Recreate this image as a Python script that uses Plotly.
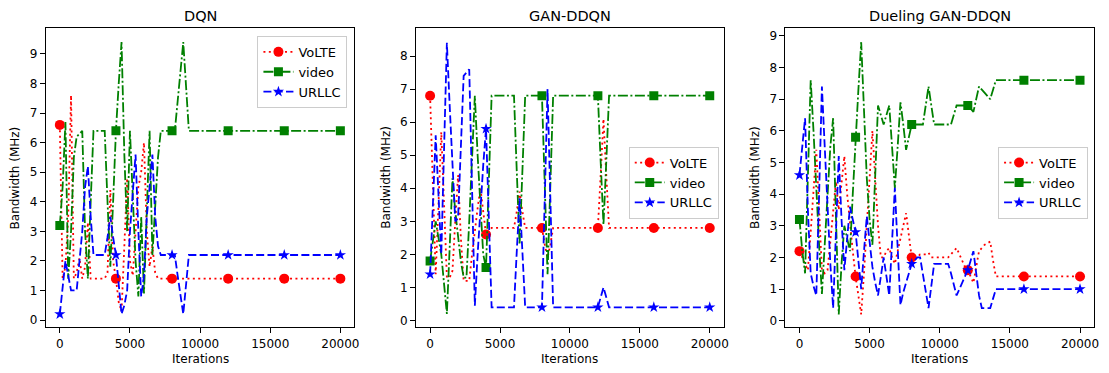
import plotly.graph_objects as go

ITERATIONS = list(range(0, 20001, 200))
TICK_X = [0, 5000, 10000, 15000, 20000]
TICK_X_TEXT = ["0", "5000", "10000", "15000", "20000"]
PANEL_TITLES = ["DQN", "GAN-DDQN", "Dueling GAN-DDQN"]
SERIES_NAMES = ["VoLTE", "video", "URLLC"]

DQN_VOLTE = [
    6.6, 1.4, 1.8, 3.5, 7.6, 1.4, 1.6, 2.1, 1.4, 1.8,
    3.3, 1.4, 1.4, 1.4, 1.4, 1.4, 1.4, 1.6, 4.4, 2.0,
    1.4, 0.6, 0.3, 2.5, 4.8, 2.0, 1.5, 3.0, 4.5, 5.0,
    6.0, 3.0, 1.8, 2.5, 1.6, 1.4, 1.4, 1.4, 1.4, 1.4,
    1.4, 1.4, 1.4, 1.4, 1.4, 1.4, 1.4, 1.4, 1.4, 1.4,
    1.4, 1.4, 1.4, 1.4, 1.4, 1.4, 1.4, 1.4, 1.4, 1.4,
    1.4, 1.4, 1.4, 1.4, 1.4, 1.4, 1.4, 1.4, 1.4, 1.4,
    1.4, 1.4, 1.4, 1.4, 1.4, 1.4, 1.4, 1.4, 1.4, 1.4,
    1.4, 1.4, 1.4, 1.4, 1.4, 1.4, 1.4, 1.4, 1.4, 1.4,
    1.4, 1.4, 1.4, 1.4, 1.4, 1.4, 1.4, 1.4, 1.4, 1.4,
    1.4]
DQN_VIDEO = [
    3.2, 4.5, 6.7, 1.4, 3.0, 5.5, 6.2, 6.3, 6.4, 3.0,
    1.4, 4.0, 6.4, 6.4, 6.4, 6.4, 6.4, 4.0, 1.8, 4.0,
    6.4, 8.0, 9.4, 5.6, 3.0, 6.4, 4.0, 2.0, 0.8, 3.5,
    0.9, 4.0, 6.4, 2.2, 4.0, 5.5, 6.4, 6.4, 6.4, 6.4,
    6.4, 6.4, 7.4, 8.4, 9.4, 7.9, 6.4, 6.4, 6.4, 6.4,
    6.4, 6.4, 6.4, 6.4, 6.4, 6.4, 6.4, 6.4, 6.4, 6.4,
    6.4, 6.4, 6.4, 6.4, 6.4, 6.4, 6.4, 6.4, 6.4, 6.4,
    6.4, 6.4, 6.4, 6.4, 6.4, 6.4, 6.4, 6.4, 6.4, 6.4,
    6.4, 6.4, 6.4, 6.4, 6.4, 6.4, 6.4, 6.4, 6.4, 6.4,
    6.4, 6.4, 6.4, 6.4, 6.4, 6.4, 6.4, 6.4, 6.4, 6.4,
    6.4]
DQN_URLLC = [
    0.2, 1.2, 2.0, 1.5, 1.0, 1.0, 1.0, 2.0, 3.0, 4.5,
    5.2, 3.5, 2.2, 2.2, 2.2, 2.2, 2.2, 2.8, 3.5, 2.8,
    2.2, 1.2, 0.2, 0.5, 1.0, 3.0, 4.5, 5.6, 3.0, 0.8,
    1.5, 3.5, 4.5, 5.6, 3.5, 2.5, 2.2, 2.2, 2.2, 2.2,
    2.2, 2.2, 1.5, 0.9, 0.2, 1.2, 2.2, 2.2, 2.2, 2.2,
    2.2, 2.2, 2.2, 2.2, 2.2, 2.2, 2.2, 2.2, 2.2, 2.2,
    2.2, 2.2, 2.2, 2.2, 2.2, 2.2, 2.2, 2.2, 2.2, 2.2,
    2.2, 2.2, 2.2, 2.2, 2.2, 2.2, 2.2, 2.2, 2.2, 2.2,
    2.2, 2.2, 2.2, 2.2, 2.2, 2.2, 2.2, 2.2, 2.2, 2.2,
    2.2, 2.2, 2.2, 2.2, 2.2, 2.2, 2.2, 2.2, 2.2, 2.2,
    2.2]

GAN_VOLTE = [
    6.8, 4.0, 1.4, 3.5, 5.7, 3.5, 1.3, 1.3, 1.5, 3.0,
    4.4, 2.5, 1.2, 1.2, 1.2, 2.0, 2.8, 3.4, 4.0, 3.3,
    2.6, 2.7, 2.8, 2.8, 2.8, 2.8, 2.8, 2.8, 2.8, 2.8,
    2.8, 3.3, 3.9, 3.3, 2.8, 2.8, 2.8, 2.8, 2.8, 2.8,
    2.8, 2.3, 1.9, 2.3, 2.8, 2.8, 2.8, 2.8, 2.8, 2.8,
    2.8, 2.8, 2.8, 2.8, 2.8, 2.8, 2.8, 2.8, 2.8, 2.8,
    2.8, 4.4, 6.1, 4.4, 2.8, 2.8, 2.8, 2.8, 2.8, 2.8,
    2.8, 2.8, 2.8, 2.8, 2.8, 2.8, 2.8, 2.8, 2.8, 2.8,
    2.8, 2.8, 2.8, 2.8, 2.8, 2.8, 2.8, 2.8, 2.8, 2.8,
    2.8, 2.8, 2.8, 2.8, 2.8, 2.8, 2.8, 2.8, 2.8, 2.8,
    2.8]
GAN_VIDEO = [
    1.8, 2.4, 3.0, 2.5, 2.0, 1.1, 0.2, 2.2, 4.3, 3.3,
    2.5, 1.8, 1.3, 1.3, 3.0, 5.0, 6.8, 5.0, 3.3, 2.0,
    1.6, 4.2, 6.8, 6.8, 6.8, 6.8, 6.8, 6.8, 6.8, 6.8,
    6.8, 4.5, 2.3, 4.5, 6.8, 6.8, 6.8, 6.8, 6.8, 6.8,
    6.8, 4.1, 1.4, 4.1, 6.8, 6.8, 6.8, 6.8, 6.8, 6.8,
    6.8, 6.8, 6.8, 6.8, 6.8, 6.8, 6.8, 6.8, 6.8, 6.8,
    6.8, 4.8, 2.9, 4.8, 6.8, 6.8, 6.8, 6.8, 6.8, 6.8,
    6.8, 6.8, 6.8, 6.8, 6.8, 6.8, 6.8, 6.8, 6.8, 6.8,
    6.8, 6.8, 6.8, 6.8, 6.8, 6.8, 6.8, 6.8, 6.8, 6.8,
    6.8, 6.8, 6.8, 6.8, 6.8, 6.8, 6.8, 6.8, 6.8, 6.8,
    6.8]
GAN_URLLC = [
    1.4, 3.5, 5.6, 3.8, 2.0, 5.2, 8.4, 6.5, 4.8, 3.0,
    3.1, 5.3, 7.4, 7.5, 7.6, 4.0, 0.45, 2.0, 3.5, 4.7,
    5.8, 3.1, 0.4, 0.4, 0.4, 0.4, 0.4, 0.4, 0.4, 0.4,
    0.4, 2.1, 3.7, 2.1, 0.4, 0.4, 0.4, 0.4, 0.4, 0.4,
    0.4, 3.7, 7.0, 3.7, 0.4, 0.4, 0.4, 0.4, 0.4, 0.4,
    0.4, 0.4, 0.4, 0.4, 0.4, 0.4, 0.4, 0.4, 0.4, 0.4,
    0.4, 0.7, 1.0, 0.7, 0.4, 0.4, 0.4, 0.4, 0.4, 0.4,
    0.4, 0.4, 0.4, 0.4, 0.4, 0.4, 0.4, 0.4, 0.4, 0.4,
    0.4, 0.4, 0.4, 0.4, 0.4, 0.4, 0.4, 0.4, 0.4, 0.4,
    0.4, 0.4, 0.4, 0.4, 0.4, 0.4, 0.4, 0.4, 0.4, 0.4,
    0.4]

DUEL_VOLTE = [
    2.2, 2.0, 1.8, 1.6, 2.8, 4.2, 5.4, 3.5, 1.6, 1.5,
    1.6, 2.5, 3.5, 4.4, 3.5, 4.4, 5.2, 4.0, 3.0, 2.2,
    1.4, 0.8, 0.2, 1.5, 3.0, 4.5, 6.0, 4.5, 3.0, 2.0,
    2.0, 2.2, 2.3, 2.0, 1.8, 2.2, 2.6, 3.0, 3.4, 2.7,
    2.0, 2.0, 2.0, 2.1, 2.1, 2.1, 2.15, 2.0, 2.0, 2.0,
    2.0, 2.0, 2.0, 2.0, 2.1, 2.2, 2.3, 2.1, 1.9, 1.7,
    1.6, 1.4, 1.2, 1.7, 2.2, 2.3, 2.4, 2.45, 2.5, 1.9,
    1.4, 1.4, 1.4, 1.4, 1.4, 1.4, 1.4, 1.4, 1.4, 1.4,
    1.4, 1.4, 1.4, 1.4, 1.4, 1.4, 1.4, 1.4, 1.4, 1.4,
    1.4, 1.4, 1.4, 1.4, 1.4, 1.4, 1.4, 1.4, 1.4, 1.4,
    1.4]
DUEL_VIDEO = [
    3.2, 2.2, 1.5, 4.5, 7.6, 6.0, 4.0, 2.4, 0.85, 2.5,
    4.0, 5.5, 6.4, 3.0, 0.2, 1.8, 3.0, 2.6, 2.2, 4.0,
    5.8, 7.3, 8.8, 6.5, 4.5, 3.2, 2.4, 4.6, 6.8, 6.5,
    6.2, 6.5, 6.8, 5.5, 4.2, 5.5, 6.9, 6.2, 5.4, 5.8,
    6.2, 6.2, 6.2, 6.2, 6.2, 6.8, 7.4, 6.8, 6.2, 6.2,
    6.2, 6.2, 6.2, 6.2, 6.2, 6.5, 6.8, 6.8, 6.8, 6.8,
    6.8, 6.7, 6.6, 7.0, 7.4, 7.3, 7.2, 7.1, 7.0, 7.3,
    7.6, 7.6, 7.6, 7.6, 7.6, 7.6, 7.6, 7.6, 7.6, 7.6,
    7.6, 7.6, 7.6, 7.6, 7.6, 7.6, 7.6, 7.6, 7.6, 7.6,
    7.6, 7.6, 7.6, 7.6, 7.6, 7.6, 7.6, 7.6, 7.6, 7.6,
    7.6]
DUEL_URLLC = [
    4.6, 5.5, 6.4, 3.5, 1.5, 1.1, 0.8, 4.0, 7.4, 5.5,
    3.5, 1.8, 0.4, 2.8, 5.2, 3.2, 1.6, 2.6, 3.6, 3.2,
    2.8, 1.9, 1.0, 2.2, 3.3, 2.5, 1.7, 1.2, 0.8, 1.4,
    2.0, 1.4, 0.8, 2.5, 4.2, 2.3, 0.5, 0.9, 1.2, 1.5,
    1.8, 1.9, 2.0, 2.0, 1.5, 0.9, 0.4, 1.1, 1.8, 1.8,
    1.8, 1.8, 1.8, 1.8, 1.5, 1.1, 0.8, 1.0, 1.2, 1.4,
    1.6, 1.9, 2.2, 1.5, 0.8, 0.4, 0.4, 0.4, 0.4, 0.7,
    1.0, 1.0, 1.0, 1.0, 1.0, 1.0, 1.0, 1.0, 1.0, 1.0,
    1.0, 1.0, 1.0, 1.0, 1.0, 1.0, 1.0, 1.0, 1.0, 1.0,
    1.0, 1.0, 1.0, 1.0, 1.0, 1.0, 1.0, 1.0, 1.0, 1.0,
    1.0]

PANEL_DATA = [
    (DQN_VOLTE, DQN_VIDEO, DQN_URLLC),
    (GAN_VOLTE, GAN_VIDEO, GAN_URLLC),
    (DUEL_VOLTE, DUEL_VIDEO, DUEL_URLLC),
]
Y_TICKS = [list(range(0, 10)), list(range(0, 9)), list(range(0, 10))]
Y_RANGES = [[-0.24, 9.88], [-0.2, 8.85], [-0.2, 9.25]]

W, H = 1109, 373
FONT = "DejaVu Sans"
TICK_SIZE = 12
LEGEND_SIZE = 13
TITLE_SIZE = 14.5

STYLES = [
    dict(color="#ff0000", dash="2px,3.4px", symbol="circle", size=10),
    dict(color="#008000", dash="10px,2.5px,2px,2.5px", symbol="square", size=9),
    dict(color="#0000ff", dash="8px,3.3px", symbol="star", size=8.5),
]
LW = 1.8

# axes pixel boxes (left, right); top/bottom shared
AX_PX = [(46, 356), (418, 727), (789, 1099)]
AX_TOP, AX_BOT = 28, 328
LEGEND_POS = [(349, 36), (722, 147), (1093, 147)]

fig = go.Figure()
marker_idx = [i for i, it in enumerate(ITERATIONS) if it % 4000 == 0]

for p in range(3):
    xa = "x" if p == 0 else f"x{p+1}"
    ya = "y" if p == 0 else f"y{p+1}"
    lg = "legend" if p == 0 else f"legend{p+1}"
    for s in range(3):
        st = STYLES[s]
        vals = PANEL_DATA[p][s]
        fig.add_trace(go.Scatter(
            x=ITERATIONS, y=vals, mode="lines", xaxis=xa, yaxis=ya,
            line=dict(color=st["color"], width=LW, dash=st["dash"]),
            showlegend=False, hoverinfo="skip"))
        fig.add_trace(go.Scatter(
            x=[ITERATIONS[i] for i in marker_idx], y=[vals[i] for i in marker_idx],
            mode="markers", xaxis=xa, yaxis=ya,
            marker=dict(color=st["color"], symbol=st["symbol"], size=st["size"],
                        line=dict(width=0)),
            showlegend=False, hoverinfo="skip"))
        fig.add_trace(go.Scatter(
            x=[None], y=[None], mode="lines+markers", xaxis=xa, yaxis=ya,
            name=SERIES_NAMES[s], legend=lg,
            line=dict(color=st["color"], width=LW, dash=st["dash"]),
            marker=dict(color=st["color"], symbol=st["symbol"], size=st["size"],
                        line=dict(width=0))))

layout = dict(
    width=W, height=H, margin=dict(l=0, r=0, t=0, b=0),
    paper_bgcolor="white", plot_bgcolor="white",
    font=dict(family=FONT, size=TICK_SIZE, color="black"),
    annotations=[],
)
for p in range(3):
    l, r = AX_PX[p]
    axx = dict(
        domain=[l / W, r / W], range=[-1000, 21000],
        tickvals=TICK_X, ticktext=TICK_X_TEXT,
        ticks="outside", ticklen=5, tickwidth=1, tickcolor="black",
        showline=True, mirror=True, linecolor="black", linewidth=1,
        showgrid=False, zeroline=False, tickfont=dict(size=TICK_SIZE),
        anchor="y" if p == 0 else f"y{p+1}",
    )
    axy = dict(
        domain=[1 - AX_BOT / H, 1 - AX_TOP / H], range=Y_RANGES[p], tickvals=Y_TICKS[p],
        ticks="outside", ticklen=5, tickwidth=1, tickcolor="black",
        showline=True, mirror=True, linecolor="black", linewidth=1,
        showgrid=False, zeroline=False, tickfont=dict(size=TICK_SIZE),
        anchor="x" if p == 0 else f"x{p+1}",
    )
    layout["xaxis" if p == 0 else f"xaxis{p+1}"] = axx
    layout["yaxis" if p == 0 else f"yaxis{p+1}"] = axy
    lx, ly = LEGEND_POS[p]
    layout["legend" if p == 0 else f"legend{p+1}"] = dict(
        x=lx / W, y=1 - ly / H, xanchor="right", yanchor="top",
        xref="paper", yref="paper",
        bgcolor="rgba(255,255,255,0.8)", bordercolor="#cccccc", borderwidth=1,
        font=dict(size=LEGEND_SIZE, family=FONT), itemwidth=30, tracegroupgap=0,
    )
    cx = (l + r) / 2
    layout["annotations"].append(dict(
        text=PANEL_TITLES[p], x=cx / W, y=1 - 16 / H, xref="paper", yref="paper",
        showarrow=False, xanchor="center", yanchor="middle",
        font=dict(size=TITLE_SIZE, family=FONT)))
    layout["annotations"].append(dict(
        text="Iterations", x=cx / W, y=1 - 360 / H, xref="paper", yref="paper",
        showarrow=False, xanchor="center", yanchor="middle",
        font=dict(size=TICK_SIZE, family=FONT)))
    layout["annotations"].append(dict(
        text="Bandwidth (MHz)", x=(l - 31) / W, y=1 - ((AX_TOP + AX_BOT) / 2) / H,
        xref="paper", yref="paper", textangle=-90,
        showarrow=False, xanchor="center", yanchor="middle",
        font=dict(size=TICK_SIZE, family=FONT)))

fig.update_layout(**layout)
fig.write_html("out.html")
